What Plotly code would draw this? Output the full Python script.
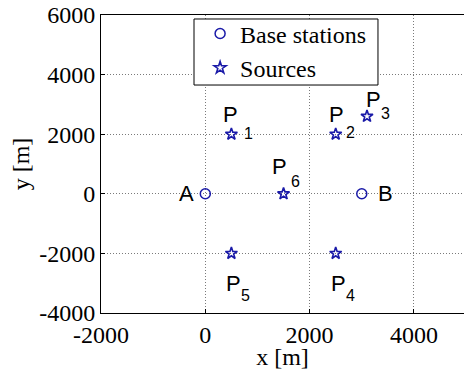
import plotly.graph_objects as go

# Data
station_names = ["A", "B"]
station_x = [0, 3000]
station_y = [0, 0]

source_names = ["1", "2", "3", "4", "5", "6"]
source_x = [500, 2500, 3100, 2500, 500, 1500]
source_y = [2000, 2000, 2600, -2000, -2000, 0]

# label placement (data coords): letter "P" and its index
station_label_x = [-370, 3460]
p_label_x = [310, 2330, 3040, 2370, 350, 1245]
p_label_y = [2660, 2660, 3160, -3010, -3010, 915]
idx_label_x = [710, 2660, 3330, 2660, 655, 1610]
idx_label_y = [2040, 2055, 2695, -3410, -3410, 415]

x_ticks = [-2000, 0, 2000, 4000]
y_ticks = [-4000, -2000, 0, 2000, 4000, 6000]

blue = "#1a1aa8"
serif = "Liberation Serif"
sans = "Liberation Sans"

fig = go.Figure()
fig.add_trace(go.Scatter(
    x=station_x, y=station_y, mode="markers", name="Base stations",
    marker=dict(symbol="circle-open", size=10, color=blue, line=dict(width=1.5)),
))
fig.add_trace(go.Scatter(
    x=source_x, y=source_y, mode="markers", name="Sources",
    marker=dict(symbol="star-open", size=9, color=blue, line=dict(width=1.6)),
))

for name, lx, y in zip(station_names, station_label_x, station_y):
    fig.add_annotation(x=lx, y=y, text=name, showarrow=False,
                       font=dict(family=sans, size=22, color="black"),
                       xanchor="center", yanchor="middle")

for name, px, py, ix, iy in zip(source_names, p_label_x, p_label_y, idx_label_x, idx_label_y):
    fig.add_annotation(x=px, y=py, text="P", showarrow=False,
                       font=dict(family=sans, size=22, color="black"),
                       xanchor="left", yanchor="middle")
    fig.add_annotation(x=ix, y=iy, text=name, showarrow=False,
                       font=dict(family=sans, size=16, color="black"),
                       xanchor="left", yanchor="middle")

tick_font = dict(family=serif, size=24, color="black")
title_font = dict(family=serif, size=24, color="black")

fig.update_layout(
    width=464, height=370,
    margin=dict(l=101, r=0, t=15, b=57),
    plot_bgcolor="white", paper_bgcolor="white",
    font=dict(family=serif, size=24, color="black"),
    xaxis=dict(range=[-2000, 4960], tickvals=x_ticks,
               ticktext=[str(v) for v in x_ticks], tickfont=tick_font,
               showgrid=True, gridcolor="#7a7a7a", griddash="1px,2px", gridwidth=1,
               zeroline=False, ticks="inside", ticklen=4, tickcolor="black",
               showline=True, linecolor="black", linewidth=1, mirror=True,
               title=dict(text="x [m]", font=title_font, standoff=0)),
    yaxis=dict(range=[-4000, 6000], tickvals=y_ticks,
               ticktext=[str(v) for v in y_ticks], tickfont=tick_font,
               showgrid=True, gridcolor="#7a7a7a", griddash="1px,2px", gridwidth=1,
               zeroline=False, ticks="inside", ticklen=4, tickcolor="black",
               showline=True, linecolor="black", linewidth=1, mirror=False,
               title=dict(text="y [m]", font=title_font, standoff=2)),
    showlegend=True,
    legend=dict(x=0.273, y=1.012, xanchor="left", yanchor="top",
                borderwidth=0, bgcolor="rgba(0,0,0,0)",
                font=dict(family=serif, size=24, color="black")),
    shapes=[dict(type="rect", xref="paper", yref="paper",
                 x0=0.2562, x1=0.763, y0=0.765, y1=0.9866,
                 line=dict(color="black", width=1), fillcolor="white", layer="above")],
)

fig.write_html("out.html")
